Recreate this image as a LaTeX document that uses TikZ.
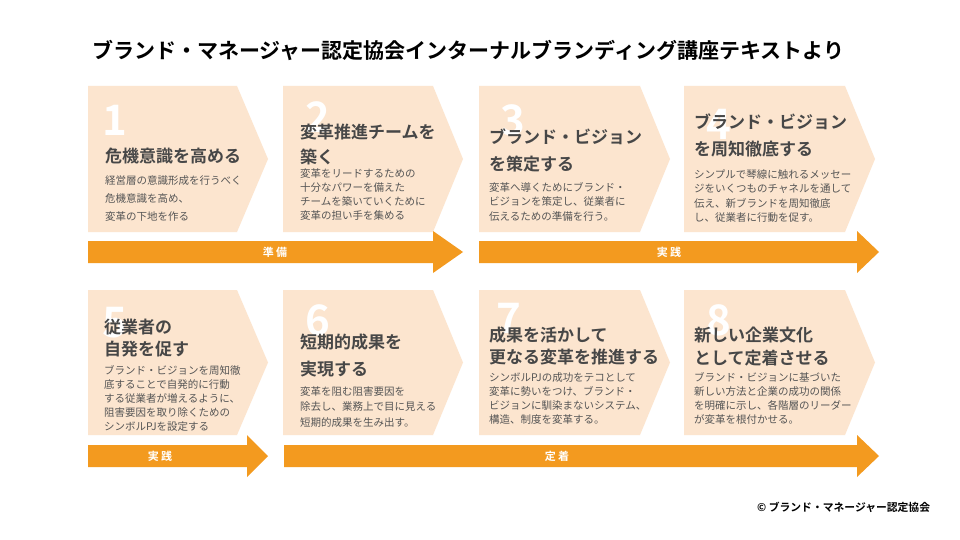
\documentclass[tikz,border=0pt]{standalone}
\usepackage{fontspec}
\setmainfont{Noto Sans CJK JP}
\newfontfamily\jpb{Noto Sans CJK JP Bold}
\definecolor{boxc}{HTML}{FCE5CF}
\definecolor{orng}{HTML}{F39A1F}
\definecolor{headc}{HTML}{474747}
\definecolor{bodyc}{HTML}{555555}
\tikzset{
  num/.style={anchor=west,inner sep=0,text=white,font=\jpb\fontsize{42}{42}\selectfont},
  head/.style={anchor=north west,inner sep=0,align=left,text=headc},
  body/.style={anchor=north west,inner sep=0,align=left,text=bodyc},
  lab/.style={inner sep=0,text=white,font=\jpb\fontsize{11}{11}\selectfont},
}
\newcommand{\chev}[5]{\fill[boxc] (#1,#4) -- (#2,#4) -- (#3,{(#4+#5)/2}) -- (#2,#5) -- (#1,#5) -- cycle;}
\newcommand{\arr}[7]{\fill[orng] (#1,#4) -- (#2,#4) -- (#2,#6) -- (#3,{(#4+#5)/2}) -- (#2,#7) -- (#2,#5) -- (#1,#5) -- cycle;}
\begin{document}
\begin{tikzpicture}[x=1pt,y=-1pt]
\useasboundingbox[fill=white] (0,0) rectangle (960,540);
\node[anchor=west,inner sep=0,font=\jpb\fontsize{21}{21}\selectfont,text=black] (title) at (92,50) {ブランド・マネージャー認定協会インターナルブランディング講座テキストより};
% chevrons
\chev{88}{237}{268}{86}{232}
\chev{283}{433}{463}{86}{232}
\chev{479}{640}{670}{86}{232}
\chev{684}{845}{875}{86}{232}
\chev{88}{237}{268}{290}{435}
\chev{283}{433}{463}{290}{435}
\chev{479}{640}{670}{290}{435}
\chev{684}{845}{875}{290}{435}
% arrows
\arr{88}{433}{463}{241}{263}{231}{273}
\arr{479}{857}{879}{241}{263}{231}{273}
\arr{88}{247}{268}{445}{467}{435}{477}
\arr{284}{857}{879}{445}{467}{435}{477}
\node[lab] (l1) at (275,252) {準 備};
\node[lab] (l2) at (669,252) {実 践};
\node[lab] (l3) at (160,456) {実 践};
\node[lab] (l4) at (557,456) {定 着};
% numbers
\node[num] (n1) at (102,120) {1};
\node[num] (n2) at (305,117) {2};
\node[num] (n3) at (500,120) {3};
\node[num] (n4) at (706,124) {4};
\node[num] (n5) at (102,323) {5};
\node[num] (n6) at (305,320) {6};
\node[num] (n7) at (496,318) {7};
\node[num] (n8) at (706,320) {8};
% headings
\begin{scope}[every node/.append style={font=\jpb\fontsize{17}{25}\selectfont}]
\node[head] (h1) at (105,148) {危機意識を高める};
\node[head] (h2) at (300,124) {変革推進チームを\\築く};
\node[head,font=\jpb\fontsize{17}{27}\selectfont] (h3) at (489,129) {ブランド・ビジョン\\を策定する};
\node[head,font=\jpb\fontsize{17}{27}\selectfont] (h4) at (694,114) {ブランド・ビジョン\\を周知徹底する};
\node[head,font=\jpb\fontsize{17}{22}\selectfont] (h5) at (104,319) {従業者の\\自発を促す};
\node[head,font=\jpb\fontsize{17}{27}\selectfont] (h6) at (300,334) {短期的成果を\\実現する};
\node[head,font=\jpb\fontsize{17}{21.5}\selectfont] (h7) at (489,327) {成果を活かして\\更なる変革を推進する};
\node[head,font=\jpb\fontsize{17}{23}\selectfont] (h8) at (694,327) {新しい企業文化\\として定着させる};
\end{scope}
% bodies
\node[body,font=\fontsize{10.5}{18.3}\selectfont] (b1) at (105,175) {経営層の意識形成を行うべく\\危機意識を高め、\\変革の下地を作る};
\node[body,font=\fontsize{10.5}{14.3}\selectfont] (b2) at (300,168) {変革をリードするための\\十分なパワーを備えた\\チームを築いていくために\\変革の担い手を集める};
\node[body,font=\fontsize{10.5}{14.5}\selectfont] (b3) at (489,182) {変革へ導くためにブランド・\\ビジョンを策定し、従業者に\\伝えるための準備を行う。};
\node[body,font=\fontsize{10.5}{14.6}\selectfont] (b4) at (694,169) {シンプルで琴線に触れるメッセー\\ジをいくつものチャネルを通して\\伝え、新ブランドを周知徹底\\し、従業者に行動を促す。};
\node[body,font=\fontsize{10.5}{14}\selectfont] (b5) at (104,365) {ブランド・ビジョンを周知徹\\底することで自発的に行動\\する従業者が増えるように、\\阻害要因を取り除くための\\シンボルPJを設定する};
\node[body,font=\fontsize{10.5}{15.5}\selectfont] (b6) at (300,386) {変革を阻む阻害要因を\\除去し、業務上で目に見える\\短期的成果を生み出す。};
\node[body,font=\fontsize{10.5}{14}\selectfont] (b7) at (489,372) {シンボルPJの成功をテコとして\\変革に勢いをつけ、ブランド・\\ビジョンに馴染まないシステム、\\構造、制度を変革する。};
\node[body,font=\fontsize{10.5}{14}\selectfont] (b8) at (694,372) {ブランド・ビジョンに基づいた\\新しい方法と企業の成功の関係\\を明確に示し、各階層のリーダー\\が変革を根付かせる。};
\node[anchor=west,inner sep=0,font=\jpb\fontsize{10.8}{10.8}\selectfont,text=black] (copy) at (757,507) {© ブランド・マネージャー認定協会};
\end{tikzpicture}
\end{document}
